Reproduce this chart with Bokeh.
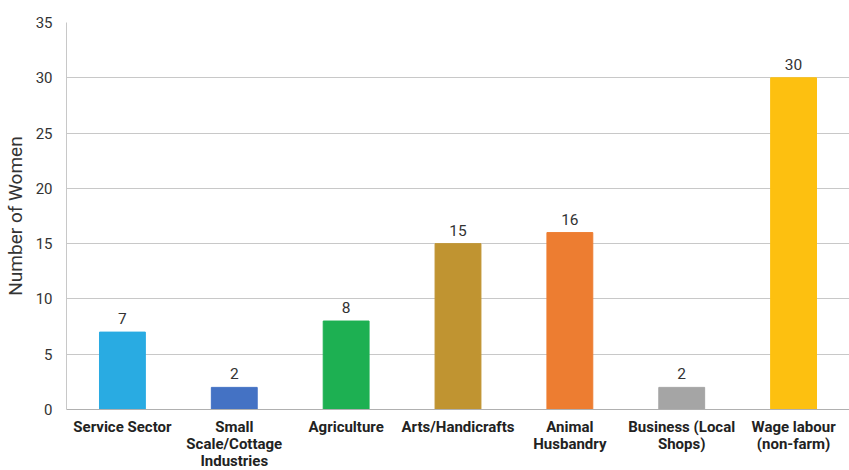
from bokeh.plotting import figure
from bokeh.models import ColumnDataSource, FixedTicker, LinearAxis, Range1d
from bokeh.embed import file_html
from bokeh.resources import INLINE
from bokeh.core.properties import value

categories = ["Service Sector", "Small Scale/Cottage Industries", "Agriculture",
              "Arts/Handicrafts", "Animal Husbandry", "Business (Local Shops)",
              "Wage labour (non-farm)"]
# wrapped category names, one list entry per printed line
label_lines = [
    ["Service Sector"],
    ["Small", "Scale/Cottage", "Industries"],
    ["Agriculture"],
    ["Arts/Handicrafts"],
    ["Animal", "Husbandry"],
    ["Business (Local", "Shops)"],
    ["Wage labour", "(non-farm)"],
]
counts = [7, 2, 8, 15, 16, 2, 30]
colors = ["#29ABE2", "#4472C4", "#1DB052", "#C09431", "#ED7D31", "#A5A5A5", "#FDC010"]

positions = list(range(len(categories)))
source = ColumnDataSource(dict(x=positions, n=counts, color=colors,
                               label=[str(v) for v in counts]))

p = figure(x_range=Range1d(-0.5, len(categories) - 0.5), y_range=(0, 35),
           frame_width=783, frame_height=387,
           min_border_left=66, min_border_right=0, min_border_top=22, min_border_bottom=0,
           output_backend="svg", toolbar_location=None)

p.vbar(x="x", top="n", width=0.41, color="color", source=source)
p.text(x="x", y="n", text="label", source=source, text_align="center",
       text_baseline="bottom", y_offset=-8, text_font=value("Roboto"),
       text_font_size="15.5px", text_color="#333333")

p.outline_line_color = None
p.xgrid.grid_line_color = None
p.ygrid.grid_line_color = "#C8C8C8"
p.ygrid.grid_line_width = 1

p.yaxis.ticker = FixedTicker(ticks=list(range(0, 36, 5)))
p.yaxis.axis_label = "Number of Women"
p.yaxis.axis_label_text_font = "Roboto"
p.yaxis.axis_label_text_font_style = "normal"
p.yaxis.axis_label_text_font_size = "19px"
p.yaxis.axis_label_text_color = "#333333"
p.yaxis.axis_label_standoff = 6
p.yaxis.major_label_text_font = "Roboto"
p.yaxis.major_label_text_font_size = "15px"
p.yaxis.major_label_text_color = "#333333"
p.yaxis.major_label_standoff = 14
p.yaxis.axis_line_color = "#C8C8C8"
p.yaxis.major_tick_line_color = None
p.yaxis.minor_tick_line_color = None
p.yaxis.major_tick_out = 0
p.yaxis.major_tick_in = 0
p.yaxis.minor_tick_out = 0


def style_category_axis(axis, line_no, standoff):
    axis.ticker = FixedTicker(ticks=positions)
    axis.major_label_overrides = {
        i: (lines[line_no] if line_no < len(lines) else "")
        for i, lines in zip(positions, label_lines)
    }
    axis.major_label_text_font = "Roboto"
    axis.major_label_text_font_style = "bold"
    axis.major_label_text_font_size = "15px"
    axis.major_label_text_color = "#222222"
    axis.major_label_standoff = standoff
    axis.major_tick_line_color = None
    axis.minor_tick_line_color = None
    axis.major_tick_out = 0
    axis.major_tick_in = 0
    axis.minor_tick_out = 0


xaxis = p.xaxis[0]
style_category_axis(xaxis, 0, 8)
xaxis.axis_line_color = "#B0B0B0"

for line_no in (1, 2):
    extra = LinearAxis()
    style_category_axis(extra, line_no, -4)
    extra.axis_line_color = None
    p.add_layout(extra, "below")

open("out.html", "w").write(file_html(p, INLINE))
